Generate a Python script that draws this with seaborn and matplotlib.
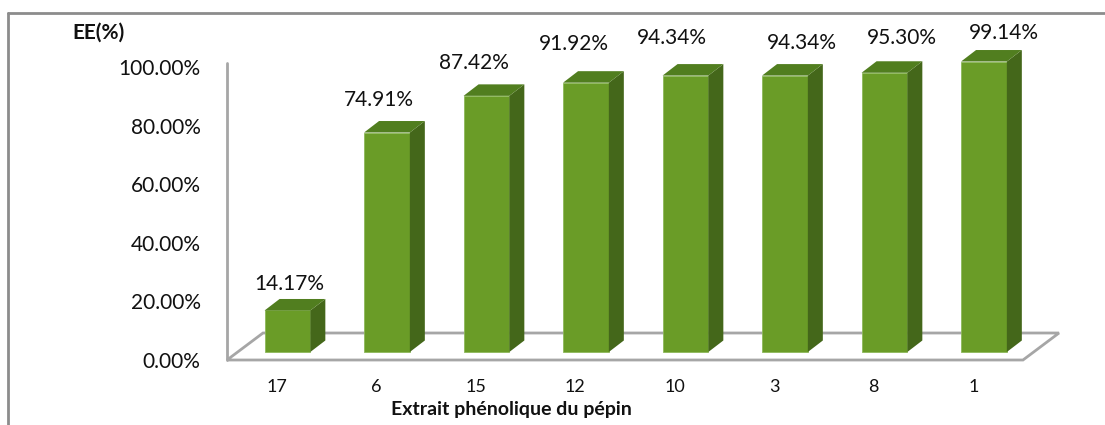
import matplotlib
matplotlib.use("Agg")
import matplotlib.pyplot as plt
from matplotlib.patches import Polygon
from matplotlib.transforms import ScaledTranslation, IdentityTransform
from matplotlib.lines import Line2D
import seaborn as sns
import pandas as pd

# Encapsulation efficiency of each grape-seed phenolic extract
extracts = ["17", "6", "15", "12", "10", "3", "8", "1"]
efficiency = [14.17, 74.91, 87.42, 91.92, 94.34, 94.34, 95.30, 99.14]
y_ticks = [0, 20, 40, 60, 80, 100]

FRONT = "#6A9C27"
SIDE = "#44671A"
TOP = "#517E1F"
GRID = "#A6A6A6"
TXT = "#111111"

sns.set_theme(style="white")
plt.rcParams["font.family"] = ["Lato", "DejaVu Sans"]

W, H, DPI = 1105, 425, 100
fig = plt.figure(figsize=(W / DPI, H / DPI), dpi=DPI)
ax = fig.add_axes([227 / W, (H - 360) / H, 796 / W, 293 / H])

df = pd.DataFrame({"extrait": extracts, "ee": efficiency})
sns.barplot(data=df, x="extrait", y="ee", order=extracts, color=FRONT,
            width=0.46, saturation=1, edgecolor="#8DB85A", linewidth=0.6,
            ax=ax, zorder=3)
bars = list(ax.patches)

ax.set_xlim(-0.5, len(extracts) - 0.5)
ax.set_ylim(0, 100)
for s in ax.spines.values():
    s.set_visible(False)

ax.set_yticks(y_ticks)
ax.set_yticklabels([f"{v:.2f}%" for v in y_ticks], fontsize=15, color=TXT)
ax.tick_params(axis="y", length=0, pad=19)
ax.tick_params(axis="x", length=0, pad=14, labelsize=13, labelcolor=TXT)
ax.set_xlabel("Extrait phénolique du pépin", fontsize=14, fontweight="bold",
              color=TXT, va="center")
ax.xaxis.set_label_coords((511 - 227) / 796, (360 - 409) / 293)
ax.set_ylabel("")

fig.canvas.draw()

# perspective offsets (pixels): bar front plane and bar depth, floor depth
bar_shift = (10.7, 8.0)
bar_depth = (15.0, 11.5)
floor_depth = (36.0, 27.0)

shift = ScaledTranslation(bar_shift[0] / DPI, bar_shift[1] / DPI, fig.dpi_scale_trans)
for p in bars:
    p.set_transform(ax.transData + shift)
    p.set_clip_on(False)

ident = IdentityTransform()

# floor parallelogram and vertical axis line
fx0, fy0 = ax.transData.transform((-0.5, 0))
fx1, _ = ax.transData.transform((len(extracts) - 0.5, 0))
floor = Polygon([(fx0, fy0), (fx1, fy0),
                 (fx1 + floor_depth[0], fy0 + floor_depth[1]),
                 (fx0 + floor_depth[0], fy0 + floor_depth[1])],
                closed=True, fill=False, edgecolor=GRID, linewidth=2.0,
                transform=ident, zorder=1, clip_on=False)
ax.add_artist(floor)
_, ytop = ax.transData.transform((-0.5, 101.3))
ax.add_artist(Line2D([fx0, fx0], [fy0, ytop], color=GRID, linewidth=2.0,
                     transform=ident, zorder=1, clip_on=False))

# side and top faces of each bar
dx, dy = bar_depth
for p in bars:
    x0, y0 = p.get_x(), p.get_y()
    x1, y1 = x0 + p.get_width(), y0 + p.get_height()
    (ax0, ay0) = ax.transData.transform((x0, y0))
    (ax1, ay1) = ax.transData.transform((x1, y1))
    ax0 += bar_shift[0]; ax1 += bar_shift[0]
    ay0 += bar_shift[1]; ay1 += bar_shift[1]
    side = Polygon([(ax1, ay0), (ax1 + dx, ay0 + dy), (ax1 + dx, ay1 + dy), (ax1, ay1)],
                   closed=True, facecolor=SIDE, edgecolor="none",
                   transform=ident, zorder=3, clip_on=False)
    top = Polygon([(ax0, ay1), (ax1, ay1), (ax1 + dx, ay1 + dy), (ax0 + dx, ay1 + dy)],
                  closed=True, facecolor=TOP, edgecolor="none",
                  transform=ident, zorder=3, clip_on=False)
    ax.add_artist(side)
    ax.add_artist(top)

# value labels, nudged in pixels from the top-centre of each bar
label_nudge = [(1.5, 26), (-8.5, 33), (-13, 33), (-12.5, 39),
               (-13.5, 38), (17, 33), (17.5, 35), (19.5, 28.5)]
for i, v in enumerate(efficiency):
    nx, ny = label_nudge[i]
    ax.annotate(f"{v:.2f}%", xy=(i, v), xytext=(bar_shift[0] + nx, bar_shift[1] + ny),
                textcoords="offset pixels", ha="center", va="center",
                fontsize=15, color=TXT, annotation_clip=False)

# axis title above the value scale
fig.text(98 / W, 1 - 33 / H, "EE(%)", ha="center", va="center",
         fontsize=15, fontweight="bold", color=TXT)

# chart frame
fig.add_artist(Line2D([8, 8], [0, H - 13], color="#8C8C8C", linewidth=2.0, transform=ident))
fig.add_artist(Line2D([8, W], [H - 13, H - 13], color="#8C8C8C", linewidth=2.0, transform=ident))

fig.savefig("out.png", dpi=DPI)
